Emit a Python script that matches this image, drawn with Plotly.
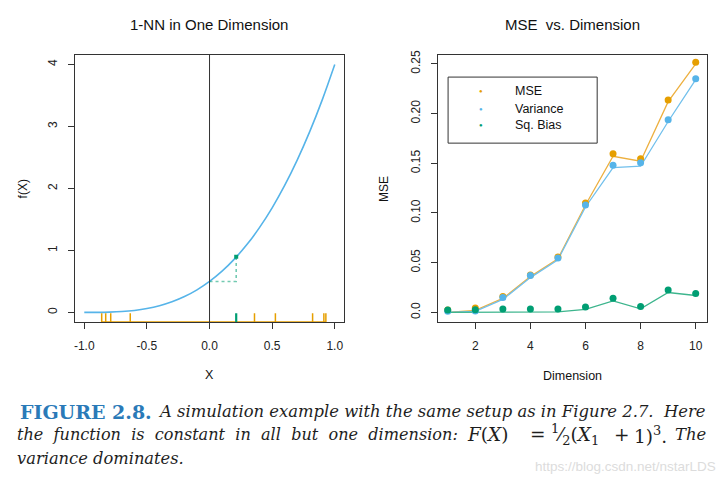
import plotly.graph_objects as go

W, H = 728, 481

# ---------------- data: left panel ----------------
curve_x = [-1.0, -0.9, -0.8, -0.7, -0.6, -0.5, -0.4, -0.3, -0.2, -0.1, 0.0,
           0.1, 0.2, 0.3, 0.4, 0.5, 0.6, 0.7, 0.8, 0.9, 1.0]
curve_y = [0.0, 0.0005, 0.004, 0.0135, 0.032, 0.0625, 0.108, 0.1715, 0.256, 0.3645, 0.5,
           0.6655, 0.864, 1.0985, 1.372, 1.6875, 2.048, 2.4565, 2.916, 3.4295, 4.0]
rug_x = [-0.861, -0.829, -0.789, -0.633, 0.359, 0.526, 0.823, 0.913, 0.929]
nn_x = 0.213
nn_y = 0.90
target_x = 0.0
target_y = 0.5

# ---------------- data: right panel ----------------
dims = [1, 2, 3, 4, 5, 6, 7, 8, 9, 10]
mse_pts = [0.0025, 0.0043, 0.016, 0.0376, 0.0558, 0.110, 0.1596, 0.1546, 0.2137, 0.2516]
var_pts = [0.0012, 0.0015, 0.015, 0.0370, 0.0548, 0.108, 0.1480, 0.1506, 0.1938, 0.2350]
bias_pts = [0.0025, 0.0027, 0.0033, 0.0033, 0.0033, 0.0053, 0.0143, 0.0060, 0.0226, 0.0190]
mse_line = [0.0, 0.0020, 0.014, 0.036, 0.054, 0.108, 0.157, 0.152, 0.212, 0.250]
var_line = [0.0, 0.0010, 0.013, 0.035, 0.053, 0.106, 0.1455, 0.147, 0.192, 0.234]
bias_line = [0.0, 0.0, 0.0, 0.0, 0.0005, 0.003, 0.0115, 0.0035, 0.020, 0.017]
legend_labels = ["MSE", "Variance", "Sq. Bias"]

left_xticks = [-1.0, -0.5, 0.0, 0.5, 1.0]
left_xtext = ["-1.0", "-0.5", "0.0", "0.5", "1.0"]
left_yticks = [0, 1, 2, 3, 4]
right_xticks = [2, 4, 6, 8, 10]
right_yticks = [0.0, 0.05, 0.10, 0.15, 0.20, 0.25]
right_ytext = ["0.0", "0.05", "0.10", "0.15", "0.20", "0.25"]

ORANGE = "#E69F00"
BLUE = "#56B4E9"
GREEN = "#009E73"
SANS = "Liberation Sans, Arial, sans-serif"
SERIF = "DejaVu Serif, serif"

fig = go.Figure()

# ---- left panel ----
LY0, LY1 = -0.16, 4.16
fig.add_trace(go.Scatter(x=curve_x, y=curve_y, mode="lines", line=dict(color=BLUE, width=1.6, shape="spline"),
                         xaxis="x", yaxis="y", showlegend=False))
fig.add_trace(go.Scatter(x=[target_x, nn_x, nn_x], y=[target_y, target_y, nn_y], mode="lines",
                         line=dict(color="rgba(0,158,115,0.55)", width=1.6, dash="dot"),
                         xaxis="x", yaxis="y", showlegend=False))
fig.add_trace(go.Scatter(x=[nn_x], y=[nn_y], mode="markers", marker=dict(color=GREEN, size=4, symbol="square"),
                         xaxis="x", yaxis="y", showlegend=False))
rx, ry = [], []
for v in rug_x:
    rx += [v, v, None]
    ry += [LY0, LY0 + 0.145, None]
fig.add_trace(go.Scatter(x=rx, y=ry, mode="lines", line=dict(color=ORANGE, width=1.5),
                         xaxis="x", yaxis="y", showlegend=False, cliponaxis=False))
fig.add_trace(go.Scatter(x=[min(rug_x), max(rug_x)], y=[LY0, LY0], mode="lines",
                         line=dict(color=ORANGE, width=2), xaxis="x", yaxis="y",
                         showlegend=False, cliponaxis=False))
fig.add_trace(go.Scatter(x=[nn_x, nn_x], y=[LY0, LY0 + 0.145], mode="lines",
                         line=dict(color=GREEN, width=2.2), xaxis="x", yaxis="y",
                         showlegend=False, cliponaxis=False))

# ---- right panel ----
for ln, col in [(mse_line, "#EDB040"), (var_line, "#72C0EC"), (bias_line, "#3DB58D")]:
    fig.add_trace(go.Scatter(x=dims, y=ln, mode="lines", line=dict(color=col, width=1.3),
                             xaxis="x2", yaxis="y2", showlegend=False))
for pts, col in [(mse_pts, ORANGE), (var_pts, BLUE), (bias_pts, GREEN)]:
    fig.add_trace(go.Scatter(x=dims, y=pts, mode="markers", marker=dict(color=col, size=7),
                             xaxis="x2", yaxis="y2", showlegend=False, cliponaxis=False))

def px(x):
    return x / W

def py(y):
    return 1 - y / H

axis_common = dict(showline=True, mirror=True, linecolor="#333", linewidth=1, ticks="outside",
                   ticklen=6, tickcolor="#333", showgrid=False, zeroline=False,
                   tickfont=dict(family=SANS, size=12, color="#222"))

fig.update_layout(
    width=W, height=H, margin=dict(l=0, r=0, t=0, b=0),
    paper_bgcolor="white", plot_bgcolor="white", showlegend=False,
    xaxis=dict(domain=[px(74), px(343)], range=[-1.075, 1.07], tickvals=left_xticks, ticktext=left_xtext,
               anchor="y", ticklabelstandoff=6, **axis_common),
    yaxis=dict(domain=[py(321), py(51)], range=[LY0, LY1], tickvals=left_yticks, tickangle=-90,
               anchor="x", ticklabelstandoff=6, **axis_common),
    xaxis2=dict(domain=[px(437.7), px(706.7)], range=[0.65, 10.4], tickvals=right_xticks,
                anchor="y2", ticklabelstandoff=6, **axis_common),
    yaxis2=dict(domain=[py(321), py(51)], range=[-0.01, 0.2593], tickvals=right_yticks, ticktext=right_ytext,
                tickangle=-90, anchor="x2", ticklabelstandoff=6, **axis_common),
)

fig.add_shape(type="line", xref="x", yref="y domain", x0=0, x1=0, y0=0, y1=1,
              line=dict(color="#333", width=1))

fig.add_shape(type="rect", xref="paper", yref="paper", x0=px(447.7), x1=px(597), y0=py(140.3), y1=py(73.7),
              line=dict(color="#333", width=1), fillcolor="rgba(0,0,0,0)")
leg_y = [88, 105.5, 122.5]
for lab, col, yy in zip(legend_labels, [ORANGE, BLUE, GREEN], leg_y):
    fig.add_annotation(x=px(480.7), y=py(yy), xref="paper", yref="paper", text="●", showarrow=False,
                       font=dict(family=SANS, size=6, color=col), xanchor="center", yanchor="middle")
    fig.add_annotation(x=px(513), y=py(yy), xref="paper", yref="paper", text=lab, showarrow=False,
                       font=dict(family=SANS, size=12.5, color="#111"), xanchor="left", yanchor="middle")

def label(text, x, y, size=12, angle=0, family=SANS, color="#111", xanchor="center"):
    fig.add_annotation(x=px(x), y=py(y), xref="paper", yref="paper", text=text, showarrow=False,
                       textangle=angle, font=dict(family=family, size=size, color=color),
                       xanchor=xanchor, yanchor="middle")

label("1-NN in One Dimension", 208.5, 21, size=15)
label("MSE  vs. Dimension", 572, 21, size=15)
label("X", 208.5, 374, size=12.5)
label("f(X)", 22, 186, size=12, angle=-90)
label("Dimension", 572, 375, size=12.5)
label("MSE", 384, 186, size=12, angle=-90)

# caption (approximately justified in chunks)
CAPCOL = "#1e1e1e"
Y1, Y2, Y3 = 411, 434.5, 458
label('<span style="color:#2a7ab8"><b>FIGURE 2.8.</b></span>', 16.7, Y1, size=19, family=SERIF,
      color=CAPCOL, xanchor="left")
label("<i>A simulation example with the same setup as in Figure 2.7.</i>", 155, Y1, size=16.4,
      family=SERIF, color=CAPCOL, xanchor="left")
label("<i>Here</i>", 708, Y1, size=16.4, family=SERIF, color=CAPCOL, xanchor="right")

label("<i>the  function  is  constant  in  all  but  one  dimension:</i>", 14, Y2, size=16.1,
      family=SERIF, color=CAPCOL, xanchor="left")
for txt, xx in [("<i>F</i>(<i>X</i>)", 465), ("=", 528), ("<sup>1</sup>⁄<sub>2</sub>(<i>X</i><sub>1</sub>", 549),
                ("+", 612), ("1)<sup>3</sup>.", 632)]:
    label(txt, xx, Y2, size=18.5, family=SERIF, color=CAPCOL, xanchor="left")
label("<i>The</i>", 708, Y2, size=16.4, family=SERIF, color=CAPCOL, xanchor="right")

label("<i>variance dominates.</i>", 14, Y3, size=16.3, family=SERIF, color=CAPCOL, xanchor="left")

label("https://blog.csdn.net/nstarLDS", 718, 466, size=13.5, color="#dcdcdc", xanchor="right")

fig.write_html("out.html", post_script="document.body.style.margin='0';",
               config={"displayModeBar": False})
